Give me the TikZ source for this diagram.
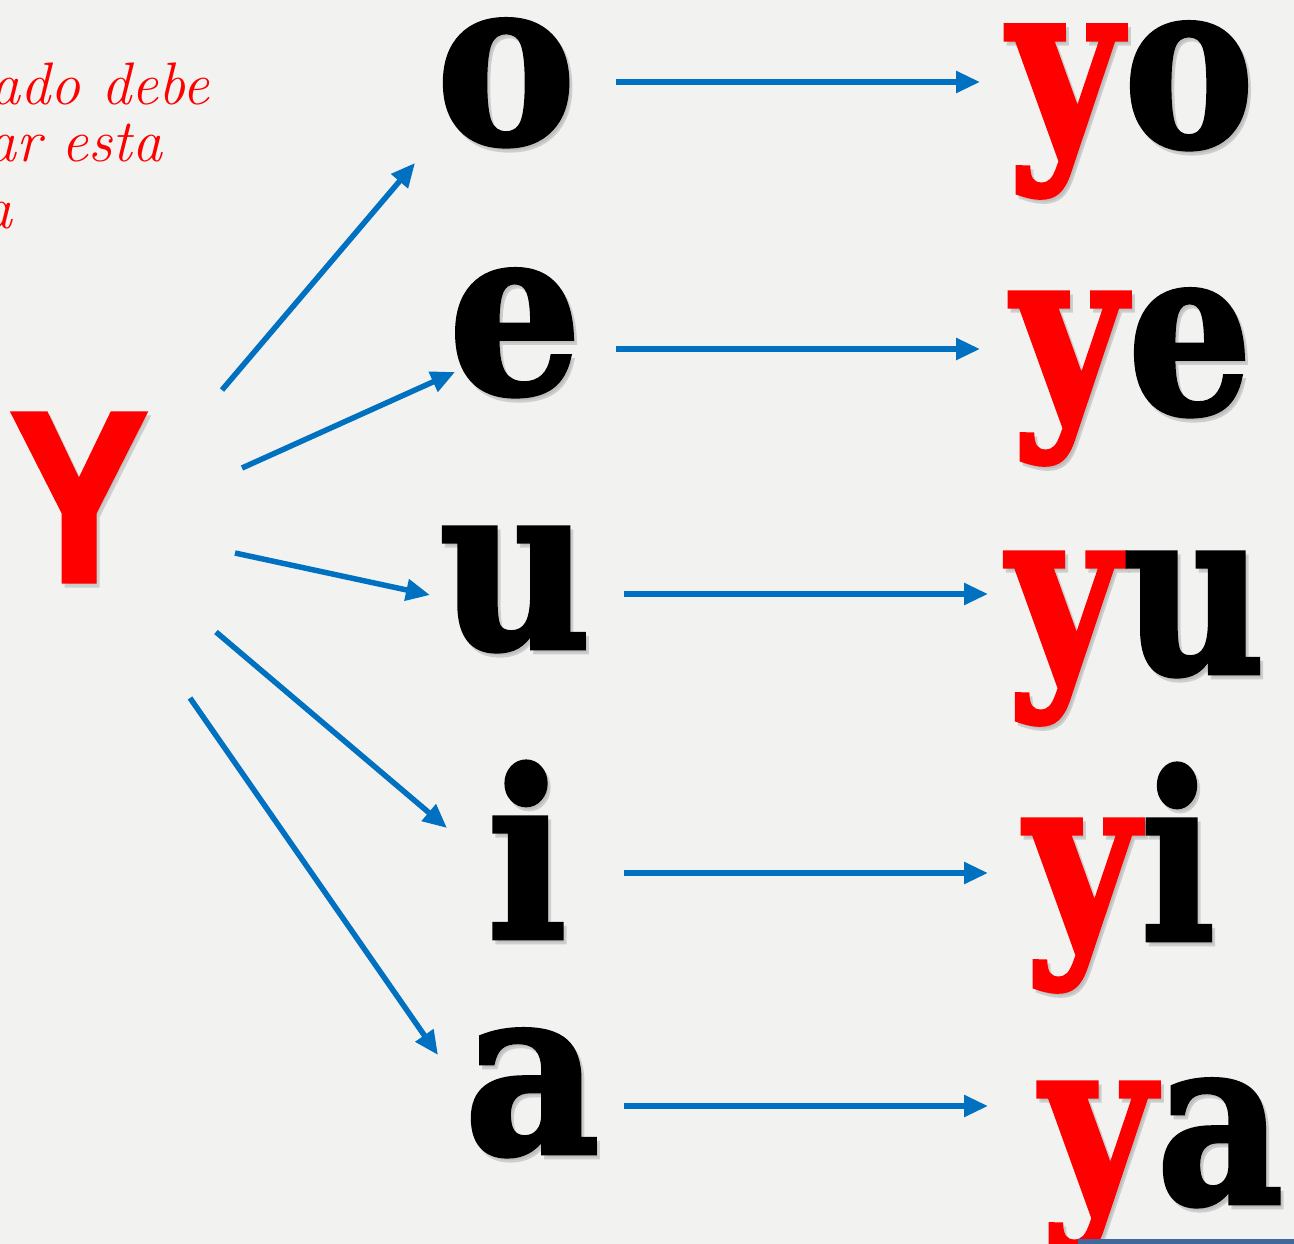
\documentclass[tikz,border=0pt]{standalone}
\usepackage{fontspec}
\usetikzlibrary{arrows.meta}
\newfontfamily\heavyserif{DejaVu Serif}[BoldFeatures={FakeBold=2}]
\newfontfamily\heavysans{Liberation Sans}[BoldFeatures={FakeBold=3}]
\definecolor{bg}{HTML}{F2F2F0}
\definecolor{arrblue}{HTML}{0070C0}
\definecolor{barblue}{HTML}{41689A}
\colorlet{ycolor}{red}
\colorlet{shadowc}{black!30}
\newcommand\yy{\textcolor{ycolor}{y}\kern3pt}
\begin{document}
\begin{tikzpicture}[x=1pt,y=-1pt,
  arr/.style={draw=arrblue, line width=5.5pt, -{Triangle[length=24pt,width=21pt]}},
  big/.style={font=\heavyserif\bfseries\fontsize{232}{232}\selectfont, inner sep=0pt, anchor=base},
  bigY/.style={font=\heavysans\bfseries\fontsize{240}{240}\selectfont, inner sep=0pt, anchor=base, text=red},
  note/.style={font=\itshape\fontsize{60}{60}\selectfont, text=red, inner sep=0pt, anchor=base west}]
\fill[bg] (0,0) rectangle (1294,1244);
\useasboundingbox (0,0) rectangle (1294,1244);
\clip (0,0) rectangle (1294,1244);
% cut-off note
\node[note] (n1) at (-10,105) {ado debe};
\node[note] (n2) at (-14,162) {ar esta};
\node[note] (n3) at (-18,228) {a};
% shadows
\begin{scope}[shift={(3,4)}, opacity=0.55]
\colorlet{ycolor}{shadowc}
\node[bigY, text=shadowc] at (79,580) {\scalebox{0.84}[1]{Y}};
\node[big, text=shadowc] at (506,143) {\scalebox{0.9}[1]{o}};
\node[big, text=shadowc] at (515,393) {\scalebox{0.9}[1]{e}};
\node[big, text=shadowc] at (515,648) {\scalebox{0.9}[1]{u}};
\node[big, text=shadowc] at (527,938) {\scalebox{0.9}[1]{i}};
\node[big, text=shadowc] at (532,1153) {\scalebox{0.9}[1]{a}};
\node[big, text=shadowc] at (1131,146) {\scalebox{0.84}[1]{\yy o}};
\node[big, text=shadowc] at (1132,413) {\scalebox{0.84}[1]{\yy e}};
\node[big, text=shadowc] at (1136,673) {\scalebox{0.84}[1]{\yy u}};
\node[big, text=shadowc] at (1120,940) {\scalebox{0.84}[1]{\yy i}};
\node[big, text=shadowc] at (1162,1203) {\scalebox{0.84}[1]{\yy a}};
\end{scope}
% letters
\node[bigY] (Y) at (79,580) {\scalebox{0.84}[1]{Y}};
\node[big] (o) at (506,143) {\scalebox{0.9}[1]{o}};
\node[big] (e) at (515,393) {\scalebox{0.9}[1]{e}};
\node[big] (u) at (515,648) {\scalebox{0.9}[1]{u}};
\node[big] (i) at (527,938) {\scalebox{0.9}[1]{i}};
\node[big] (a) at (532,1153) {\scalebox{0.9}[1]{a}};
\node[big] (yo) at (1131,146) {\scalebox{0.84}[1]{\yy o}};
\node[big] (ye) at (1132,413) {\scalebox{0.84}[1]{\yy e}};
\node[big] (yu) at (1136,673) {\scalebox{0.84}[1]{\yy u}};
\node[big] (yi) at (1120,940) {\scalebox{0.84}[1]{\yy i}};
\node[big] (ya) at (1162,1203) {\scalebox{0.84}[1]{\yy a}};
% arrow end points
\coordinate (Yo) at (222,390); \coordinate (oT) at (415,163);
\coordinate (Ye) at (242,468); \coordinate (eT) at (455,372);
\coordinate (Yu) at (235,553); \coordinate (uT) at (430,595);
\coordinate (Yi) at (216,632); \coordinate (iT) at (447,828);
\coordinate (Ya) at (190,698); \coordinate (aT) at (438,1055);
\coordinate (oS) at (616,82);  \coordinate (yoT) at (980,82);
\coordinate (eS) at (616,349); \coordinate (yeT) at (980,349);
\coordinate (uS) at (624,594); \coordinate (yuT) at (988,594);
\coordinate (iS) at (624,873); \coordinate (yiT) at (988,873);
\coordinate (aS) at (624,1106); \coordinate (yaT) at (988,1106);
\draw[arr] (Yo) -- (oT);
\draw[arr] (Ye) -- (eT);
\draw[arr] (Yu) -- (uT);
\draw[arr] (Yi) -- (iT);
\draw[arr] (Ya) -- (aT);
\draw[arr] (oS) -- (yoT);
\draw[arr] (eS) -- (yeT);
\draw[arr] (uS) -- (yuT);
\draw[arr] (iS) -- (yiT);
\draw[arr] (aS) -- (yaT);
% bottom bar
\coordinate (b1) at (1078,1241); \coordinate (b2) at (1294,1241);
\draw[barblue, line width=5pt] (b1) -- (b2);
\end{tikzpicture}
\end{document}
